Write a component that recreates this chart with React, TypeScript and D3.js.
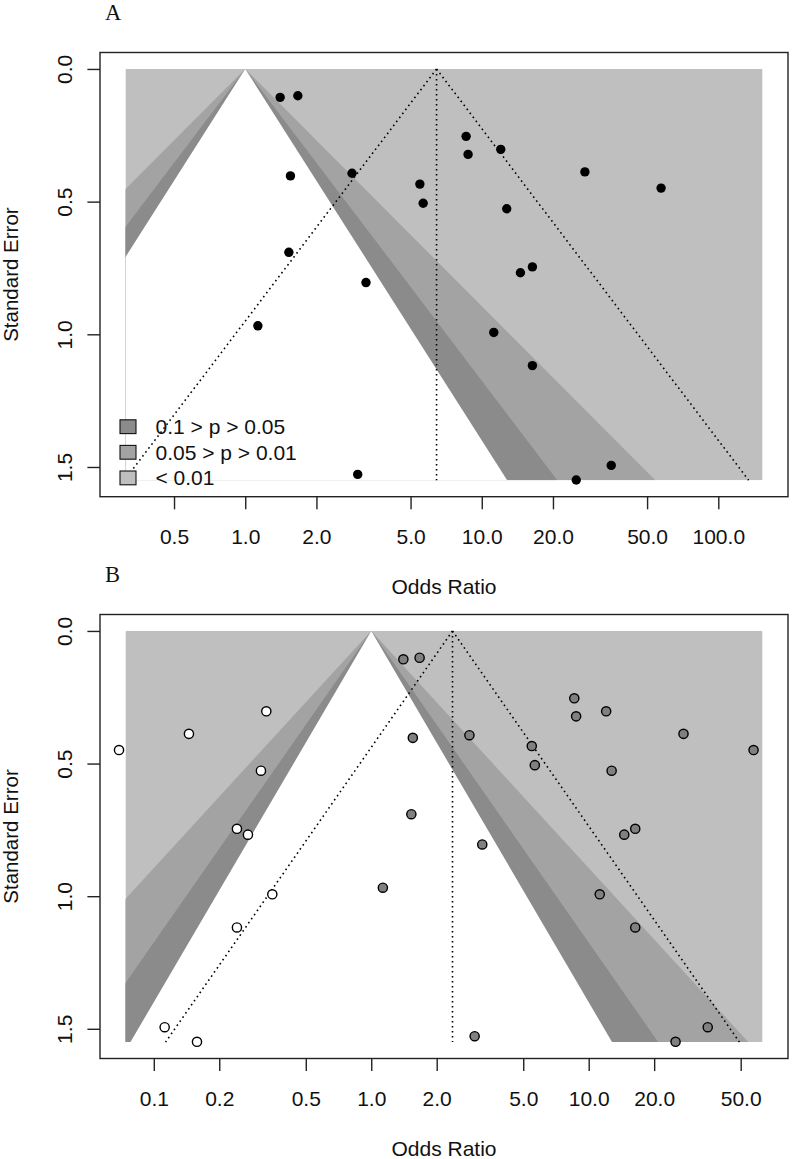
import * as d3 from "d3";
import { useEffect, useRef } from "react";

const W = 792;
const H = 1159;
const sans = "'Liberation Sans', Arial, Helvetica, sans-serif";
const serif = "'Liberation Serif', 'Times New Roman', serif";

// observed studies (odds ratio, standard error)
const studyOR = [
  1.405, 1.669, 2.828, 1.553, 1.529, 3.24, 1.131, 2.989, 8.585, 8.753, 12.03,
  5.474, 5.652, 12.75, 27.29, 57.3, 14.57, 16.37, 11.24, 16.37, 35.27, 25.09,
];
const studySE = [
  0.107, 0.101, 0.393, 0.403, 0.691, 0.805, 0.968, 1.528, 0.254, 0.322, 0.303,
  0.434, 0.506, 0.527, 0.388, 0.449, 0.768, 0.746, 0.993, 1.118, 1.494, 1.549,
];

// imputed studies from trim and fill (panel B)
const filledOR = [0.0692, 0.1451, 0.3292, 0.311, 0.2412, 0.271, 0.3508, 0.2412, 0.1122, 0.158];
const filledSE = [0.449, 0.388, 0.303, 0.527, 0.746, 0.768, 0.993, 1.118, 1.494, 1.549];

const seMax = 1.55;
const yTicks = [0, 0.5, 1, 1.5];
const xTicksA = [0.5, 1, 2, 5, 10, 20, 50, 100];
const xTicksB = [0.1, 0.2, 0.5, 1, 2, 5, 10, 20, 50];
const xlimA = [0.3117, 153.8];
const xlimB = [0.0741, 63.0];
const estimateA = 6.44;
const estimateB = 2.364;

// contour levels: z for p = 0.01, 0.05, 0.1 (drawn outer to inner)
const contourZ = [2.576, 1.96, 1.645];
const contourFill = ["#a3a3a3", "#8b8b8b", "#ffffff"];
const backFill = "#bfbfbf";
const legendLabels = ["0.1 > p > 0.05", "0.05 > p > 0.01", "< 0.01"];
const legendFill = ["#8b8b8b", "#a3a3a3", "#bfbfbf"];

const boxLeft = 100;
const boxRight = 788;

function drawPanel(svg: any, p: any) {
  const [lo, hi] = p.xlim.map(Math.log10);
  const pad = (hi - lo) * 0.04;
  const x = d3
    .scaleLog()
    .domain([10 ** (lo - pad), 10 ** (hi + pad)])
    .range([boxLeft, boxRight]);
  const y = d3
    .scaleLinear()
    .domain([-seMax * 0.04, seMax * 1.04])
    .range([p.top, p.bottom]);

  const g = svg.append("g");

  // clip for the shaded funnel region
  g.append("clipPath")
    .attr("id", "clip" + p.id)
    .append("rect")
    .attr("x", x(p.xlim[0]))
    .attr("y", y(0))
    .attr("width", x(p.xlim[1]) - x(p.xlim[0]))
    .attr("height", y(seMax) - y(0));

  const shade = g.append("g").attr("clip-path", `url(#clip${p.id})`);
  shade
    .append("rect")
    .attr("x", x(p.xlim[0]))
    .attr("y", y(0))
    .attr("width", x(p.xlim[1]) - x(p.xlim[0]))
    .attr("height", y(seMax) - y(0))
    .attr("fill", backFill);

  contourZ.forEach((z, i) => {
    const pts: [number, number][] = [
      [Math.exp(-z * seMax), seMax],
      [1, 0],
      [Math.exp(z * seMax), seMax],
    ];
    shade
      .append("path")
      .attr("d", d3.line()(pts.map((d) => [x(d[0]), y(d[1])]) as any))
      .attr("fill", contourFill[i]);
  });

  // pseudo confidence region around the estimate
  const lines: [number, number][][] = [
    [
      [p.est, 0],
      [p.est, seMax],
    ],
    [
      [p.est, 0],
      [p.est * Math.exp(-1.96 * seMax), seMax],
    ],
    [
      [p.est, 0],
      [p.est * Math.exp(1.96 * seMax), seMax],
    ],
  ];
  lines.forEach((l) => {
    g.append("path")
      .attr("d", d3.line()(l.map((d) => [x(d[0]), y(d[1])]) as any))
      .attr("fill", "none")
      .attr("stroke", "#000")
      .attr("stroke-width", 1.6)
      .attr("stroke-dasharray", "1.6,3.4");
  });

  // points
  g.append("g")
    .selectAll("circle")
    .data(studyOR.map((o, i) => [o, studySE[i]]))
    .enter()
    .append("circle")
    .attr("cx", (d: any) => x(d[0]))
    .attr("cy", (d: any) => y(d[1]))
    .attr("r", p.filled ? 4.6 : 4.7)
    .attr("fill", p.filled ? "#808080" : "#000")
    .attr("stroke", p.filled ? "#000" : "none")
    .attr("stroke-width", 1.4);

  if (p.filled) {
    g.append("g")
      .selectAll("circle")
      .data(filledOR.map((o, i) => [o, filledSE[i]]))
      .enter()
      .append("circle")
      .attr("cx", (d: any) => x(d[0]))
      .attr("cy", (d: any) => y(d[1]))
      .attr("r", 4.6)
      .attr("fill", "#fff")
      .attr("stroke", "#000")
      .attr("stroke-width", 1.4);
  }

  // box
  g.append("rect")
    .attr("x", boxLeft)
    .attr("y", p.top)
    .attr("width", boxRight - boxLeft)
    .attr("height", p.bottom - p.top)
    .attr("fill", "none")
    .attr("stroke", "#222")
    .attr("stroke-width", 1.4);

  // x axis
  const xAxis = g
    .append("g")
    .attr("transform", `translate(0,${p.bottom})`)
    .call(
      d3
        .axisBottom(x)
        .tickValues(p.ticks)
        .tickFormat(d3.format(".1f") as any)
        .tickSize(12.6)
        .tickPadding(20)
    );
  xAxis.select(".domain").remove();
  xAxis.attr("font-size", 21).attr("font-family", sans);
  xAxis.selectAll("line").attr("stroke", "#222").attr("stroke-width", 1.4);
  xAxis.selectAll("text").attr("fill", "#111");

  // y axis
  const yAxis = g
    .append("g")
    .attr("transform", `translate(${boxLeft},0)`)
    .call(
      d3
        .axisLeft(y)
        .tickValues(yTicks)
        .tickFormat(d3.format(".1f") as any)
        .tickSize(12.6)
    );
  yAxis.select(".domain").remove();
  yAxis.attr("font-size", 21).attr("font-family", sans);
  yAxis.selectAll("line").attr("stroke", "#222").attr("stroke-width", 1.4);
  yAxis
    .selectAll("text")
    .attr("x", null)
    .attr("dy", null)
    .attr("text-anchor", "middle")
    .attr("fill", "#111")
    .attr("transform", "translate(-28.5,0) rotate(-90)");

  // axis titles
  g.append("text")
    .attr("x", (boxLeft + boxRight) / 2)
    .attr("y", p.bottom + 97.5)
    .attr("text-anchor", "middle")
    .attr("font-family", sans)
    .attr("font-size", 21)
    .attr("fill", "#111")
    .text("Odds Ratio");

  g.append("text")
    .attr(
      "transform",
      `translate(18,${(p.top + p.bottom) / 2}) rotate(-90)`
    )
    .attr("text-anchor", "middle")
    .attr("font-family", sans)
    .attr("font-size", 20.5)
    .attr("fill", "#111")
    .text("Standard Error");

  // panel letter
  g.append("text")
    .attr("x", 105)
    .attr("y", p.top - 32.5)
    .attr("font-family", serif)
    .attr("font-size", 22.5)
    .attr("fill", "#111")
    .text(p.label);

  // legend
  if (p.legend) {
    const lg = g.append("g");
    legendLabels.forEach((lab, i) => {
      const cy = 426.7 + i * 25.6;
      lg.append("rect")
        .attr("x", 120)
        .attr("y", cy - 6.9)
        .attr("width", 16)
        .attr("height", 13.8)
        .attr("fill", legendFill[i])
        .attr("stroke", "#111")
        .attr("stroke-width", 1.1);
      lg.append("text")
        .attr("x", 155.5)
        .attr("y", cy + 7.5)
        .attr("font-family", sans)
        .attr("font-size", 21)
        .attr("fill", "#111")
        .text(lab);
    });
  }
}

export default function App() {
  const ref = useRef<SVGSVGElement>(null);

  useEffect(() => {
    const svg = d3.select(ref.current);
    svg.selectAll("*").remove();
    svg.append("rect").attr("width", W).attr("height", H).attr("fill", "#fff");

    drawPanel(svg, {
      id: "A",
      label: "A",
      top: 52.5,
      bottom: 496.7,
      xlim: xlimA,
      ticks: xTicksA,
      est: estimateA,
      filled: false,
      legend: true,
    });
    drawPanel(svg, {
      id: "B",
      label: "B",
      top: 614.5,
      bottom: 1058.5,
      xlim: xlimB,
      ticks: xTicksB,
      est: estimateB,
      filled: true,
      legend: false,
    });
  }, []);

  return (
    <div style={{ position: "absolute", left: 0, top: 0 }}>
      <svg ref={ref} width={W} height={H} style={{ display: "block" }}></svg>
    </div>
  );
}
